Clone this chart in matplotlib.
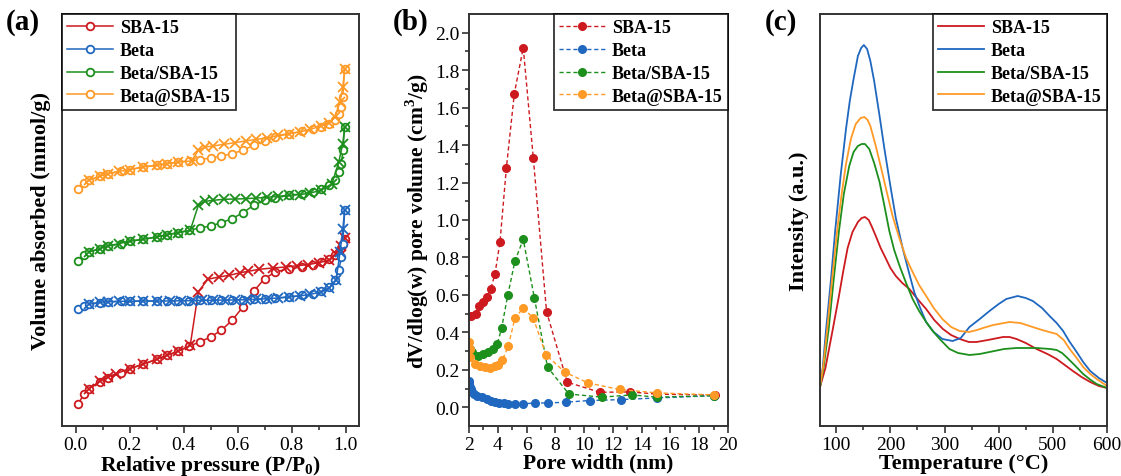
import matplotlib
matplotlib.use("Agg")
import matplotlib.pyplot as plt

plt.rcParams['font.family'] = ['Liberation Serif', 'DejaVu Serif']
plt.rcParams['mathtext.fontset'] = 'custom'
plt.rcParams['mathtext.rm'] = 'Liberation Serif'
plt.rcParams['mathtext.bf'] = 'Liberation Serif:bold'

names = ['SBA-15', 'Beta', 'Beta/SBA-15', 'Beta@SBA-15']
colors = ['#cc1a1f', '#1f67bf', '#1d8f1d', '#ff9a26']

# ---- (a) N2 isotherms (arbitrary units, offset curves) ----
p_ads = [0.01, 0.03, 0.05, 0.09, 0.12, 0.17, 0.20, 0.25, 0.30, 0.34, 0.38, 0.42, 0.46, 0.50, 0.54,
         0.58, 0.62, 0.66, 0.70, 0.74, 0.79, 0.84, 0.88, 0.91, 0.94, 0.96, 0.975, 0.985, 0.99, 0.997]
sba_ads = [2.17, 3.17, 3.73, 4.40, 4.80, 5.30, 5.73, 6.17, 6.67, 7.07, 7.47, 7.97, 8.40, 8.90, 9.57,
           10.57, 11.90, 13.47, 14.73, 15.40, 15.73, 15.90, 16.07, 16.40, 16.73, 17.07, 17.40, 17.80, 18.20, 18.73]
beta_ads = [11.67, 12.00, 12.17, 12.33, 12.40, 12.47, 12.47, 12.50, 12.50, 12.50, 12.53, 12.53, 12.57, 12.57, 12.60,
            12.60, 12.63, 12.67, 12.73, 12.80, 12.90, 13.07, 13.23, 13.50, 13.90, 14.57, 15.57, 16.90, 18.23, 21.57]
bs_ads = [16.47, 17.13, 17.40, 17.73, 18.00, 18.23, 18.47, 18.67, 18.90, 19.13, 19.33, 19.57, 19.80, 20.00, 20.33,
          20.73, 21.33, 22.07, 22.57, 22.80, 23.07, 23.23, 23.40, 23.67, 24.07, 24.57, 25.40, 26.23, 27.57, 29.90]
bat_ads = [23.73, 24.30, 24.57, 24.97, 25.23, 25.47, 25.63, 25.90, 26.07, 26.23, 26.40, 26.50, 26.63, 26.80, 27.00,
           27.23, 27.57, 28.07, 28.47, 28.90, 29.23, 29.47, 29.67, 29.90, 30.23, 30.57, 31.23, 31.90, 32.90, 35.73]

sba_p_des = [0.997, 0.985, 0.965, 0.94, 0.90, 0.86, 0.82, 0.78, 0.73, 0.68, 0.64, 0.61, 0.57, 0.53, 0.49, 0.455,
             0.425, 0.38, 0.34, 0.30, 0.25, 0.20, 0.15, 0.12, 0.09, 0.05]
sba_des = [18.80, 18.00, 17.23, 16.57, 16.33, 16.13, 16.03, 15.90, 15.80, 15.67, 15.47, 15.33, 15.07, 14.90, 14.67, 13.43,
           8.07, 7.47, 7.07, 6.67, 6.17, 5.73, 5.23, 4.90, 4.47, 3.73]
beta_p_des = [0.997, 0.99, 0.98, 0.965, 0.94, 0.91, 0.87, 0.83, 0.79, 0.75, 0.71, 0.67, 0.63, 0.59, 0.55, 0.51,
              0.47, 0.43, 0.39, 0.35, 0.30, 0.25, 0.20, 0.16, 0.12, 0.09, 0.05]
beta_des = [21.57, 19.73, 17.40, 14.57, 13.80, 13.40, 13.17, 13.00, 12.90, 12.80, 12.73, 12.67, 12.63, 12.60, 12.60, 12.57,
            12.57, 12.53, 12.53, 12.50, 12.50, 12.50, 12.47, 12.47, 12.43, 12.37, 12.17]
bs_p_des = [0.997, 0.99, 0.975, 0.95, 0.91, 0.87, 0.83, 0.79, 0.75, 0.71, 0.67, 0.63, 0.59, 0.55, 0.51, 0.48,
            0.455, 0.425, 0.38, 0.34, 0.30, 0.25, 0.20, 0.16, 0.12, 0.09, 0.05]
bs_des = [29.90, 28.23, 26.40, 24.23, 23.57, 23.30, 23.13, 23.07, 22.97, 22.87, 22.80, 22.73, 22.70, 22.67, 22.57, 22.47,
          22.07, 19.57, 19.33, 19.13, 18.90, 18.67, 18.47, 18.23, 18.00, 17.73, 17.40]
bat_p_des = [0.997, 0.99, 0.98, 0.96, 0.94, 0.91, 0.87, 0.83, 0.79, 0.75, 0.71, 0.67, 0.63, 0.59, 0.55, 0.51,
             0.48, 0.455, 0.43, 0.38, 0.34, 0.30, 0.25, 0.20, 0.16, 0.12, 0.09, 0.05]
bat_des = [35.73, 33.90, 32.40, 30.90, 30.33, 30.00, 29.67, 29.40, 29.23, 29.07, 28.80, 28.67, 28.50, 28.33, 28.17, 28.00,
           27.90, 27.57, 26.50, 26.40, 26.23, 26.07, 25.90, 25.63, 25.47, 25.23, 24.97, 24.57]

# ---- (b) pore size distribution ----
sba_w = [2.16, 2.46, 2.72, 2.95, 3.23, 3.5, 3.8, 4.15, 4.6, 5.15, 5.77, 6.47, 7.39, 8.83, 11.1, 13.2, 15.1, 19.1]
sba_v = [0.49, 0.50, 0.54, 0.56, 0.59, 0.63, 0.71, 0.88, 1.28, 1.675, 1.92, 1.33, 0.51, 0.134, 0.08, 0.082, 0.07, 0.065]
beta_w = [2.0, 2.03, 2.07, 2.12, 2.2, 2.35, 2.53, 2.88, 3.23, 3.5, 3.8, 4.1, 4.43, 4.73, 5.19, 5.77, 6.58, 7.46,
          8.71, 10.38, 12.58, 15.1, 19.0]
beta_v = [0.14, 0.13, 0.11, 0.095, 0.08, 0.07, 0.06, 0.054, 0.045, 0.036, 0.027, 0.023, 0.021, 0.018, 0.02, 0.018,
          0.023, 0.023, 0.027, 0.036, 0.041, 0.05, 0.062]
bs_w = [2.05, 2.19, 2.65, 3.0, 3.34, 3.64, 3.97, 4.27, 4.69, 5.19, 5.77, 6.54, 7.46, 8.94, 11.24, 13.3, 15.1, 19.06]
bs_v = [0.31, 0.294, 0.276, 0.285, 0.294, 0.312, 0.339, 0.424, 0.597, 0.78, 0.897, 0.585, 0.214, 0.071, 0.054,
        0.066, 0.054, 0.062]
bat_w = [2.02, 2.05, 2.1, 2.42, 2.76, 3.11, 3.46, 3.8, 4.04, 4.31, 4.73, 5.19, 5.77, 6.47, 7.35, 8.67, 10.27,
         12.46, 15.06, 19.0]
bat_v = [0.348, 0.31, 0.27, 0.232, 0.223, 0.214, 0.209, 0.219, 0.226, 0.25, 0.326, 0.476, 0.53, 0.476, 0.28, 0.187,
         0.13, 0.095, 0.077, 0.066]

# ---- (c) NH3-TPD ----
sba_t = [70, 80, 93, 105, 113, 121, 130, 140, 147, 153, 160, 166, 173, 182, 192, 200, 210, 222, 235, 250, 266,
         281, 297, 312, 328, 345, 359, 380, 408, 420, 433, 450, 470, 490, 507, 522, 537, 553, 569, 585, 600]
sba_i = [39, 58, 95, 130, 155, 178, 194, 204, 208, 209, 206, 199, 190, 178, 167, 158, 150, 143, 137, 127, 117,
         106, 97, 91, 87, 84, 84, 86, 89, 89, 87, 83, 77, 72, 67, 61, 55, 49, 44, 40, 38]
beta_t = [70, 75, 81, 90, 98, 108, 118, 125, 132, 140, 146, 151, 157, 163, 170, 180, 189, 200, 210, 223, 235, 244,
          255, 266, 280, 296, 315, 330, 346, 365, 383, 400, 414, 435, 450, 463, 480, 494, 507, 519, 530, 544, 556,
          569, 585, 600]
beta_i = [39, 58, 95, 145, 195, 250, 297, 325, 347, 370, 378, 381, 377, 365, 345, 310, 277, 240, 208, 177, 152, 134,
          118, 104, 94, 87, 85, 88, 99, 107, 115, 122, 127, 130, 128, 125, 118, 110, 103, 95, 85, 74, 64,
          55, 48, 43]
bs_t = [70, 77, 86, 95, 105, 114, 124, 132, 140, 147, 153, 161, 170, 180, 189, 198, 207, 217, 229, 241, 253, 266,
        278, 291, 309, 325, 346, 365, 383, 410, 433, 470, 495, 507, 517, 525, 540, 556, 570, 581, 600]
bs_i = [39, 60, 97, 145, 195, 232, 260, 274, 280, 282, 282, 277, 263, 244, 220, 195, 176, 160, 143, 127, 115, 104,
        95, 87, 77, 73, 71, 72, 74, 77, 78, 78, 77, 76, 73, 69, 61, 52, 46, 42, 38]
bat_t = [70, 76, 83, 92, 102, 110, 118, 127, 136, 145, 152, 158, 163, 173, 182, 192, 204, 217, 229, 241, 253, 266,
         280, 296, 312, 328, 345, 360, 371, 390, 420, 440, 457, 480, 507, 520, 531, 544, 556, 569, 581, 600]
bat_i = [39, 60, 95, 145, 197, 232, 262, 287, 302, 308, 309, 306, 300, 280, 260, 237, 210, 187, 168, 154, 141, 130,
         118, 107, 99, 95, 94, 96, 98, 101, 104, 103, 100, 96, 92, 86, 77, 68, 59, 52, 47, 40]

W, H = 1121, 477
fig = plt.figure(figsize=(W / 100, H / 100), dpi=100)


def box(l, r, t=15, b=427):
    return [l / W, 1 - b / H, (r - l) / W, (b - t) / H]


bold = dict(fontweight='bold')
lab_fs = 15.5
tick_fs = 14
leg_fs = 13


def style(ax):
    for s in ax.spines.values():
        s.set_linewidth(1.4)
        s.set_color('#333333')
    ax.tick_params(which='both', direction='out', labelsize=tick_fs, width=1.2, color='#333333', pad=2)
    ax.tick_params(which='major', length=5)
    ax.tick_params(which='minor', length=3)


def legend(ax, loc):
    leg = ax.legend(loc=loc, borderaxespad=0, fancybox=False, frameon=True, edgecolor='black',
                    prop={'family': 'Liberation Serif', 'weight': 'bold', 'size': leg_fs},
                    handlelength=2.5, labelspacing=0.32, borderpad=0.3, handletextpad=0.4, numpoints=1)
    leg.get_frame().set_linewidth(1.3)
    return leg


# (a)
ax1 = fig.add_axes(box(62, 359))
ads = [sba_ads, beta_ads, bs_ads, bat_ads]
des_p = [sba_p_des, beta_p_des, bs_p_des, bat_p_des]
des = [sba_des, beta_des, bs_des, bat_des]
for i in range(4):
    ax1.plot(p_ads, ads[i], '-o', color=colors[i], mfc='white', ms=5.5, mew=1.3, lw=1.1, label=names[i])
    ax1.plot(des_p[i], des[i], '-x', color=colors[i], ms=6.5, mew=1.3, lw=1.1)
ax1.set_xlim(-0.05, 1.05)
ax1.set_ylim(0, 41.2)
ax1.set_yticks([])
ax1.set_xticks([0.0, 0.2, 0.4, 0.6, 0.8, 1.0])
ax1.set_xticks([0.1, 0.3, 0.5, 0.7, 0.9], minor=True)
ax1.set_xlabel('Relative pressure (P/P$_\\mathbf{0}$)', fontsize=lab_fs, labelpad=0, **bold)
ax1.set_ylabel('Volume absorbed (mmol/g)', fontsize=lab_fs + 0.5, labelpad=8, **bold)
style(ax1)
legend(ax1, 'upper left')

# (b)
ax2 = fig.add_axes(box(469, 728))
ws = [sba_w, beta_w, bs_w, bat_w]
vs = [sba_v, beta_v, bs_v, bat_v]
for i in range(4):
    ax2.plot(ws[i], vs[i], '--o', color=colors[i], ms=5.5, lw=1.0, dashes=(3, 2), label=names[i])
ax2.set_xlim(2, 20)
ax2.set_ylim(-0.1, 2.1)
ax2.set_xticks(range(2, 21, 2))
ax2.set_xticks(range(3, 20, 2), minor=True)
ax2.set_yticks([0.0, 0.2, 0.4, 0.6, 0.8, 1.0, 1.2, 1.4, 1.6, 1.8, 2.0])
ax2.set_yticks([0.1, 0.3, 0.5, 0.7, 0.9, 1.1, 1.3, 1.5, 1.7, 1.9], minor=True)
ax2.set_xlabel('Pore width (nm)', fontsize=lab_fs, labelpad=0, **bold)
ax2.set_ylabel('dV/dlog(w) pore volume (cm$^\\mathbf{3}$/g)', fontsize=lab_fs, labelpad=3, **bold)
style(ax2)
legend(ax2, 'upper right')

# (c)
ax3 = fig.add_axes(box(820, 1107))
ts = [sba_t, beta_t, bs_t, bat_t]
its = [sba_i, beta_i, bs_i, bat_i]
for i in range(4):
    ax3.plot(ts[i], its[i], '-', color=colors[i], lw=1.3, label=names[i])
ax3.set_xlim(70, 600)
ax3.set_ylim(0, 412)
ax3.set_yticks([])
ax3.set_xticks([100, 200, 300, 400, 500, 600])
ax3.set_xticks([150, 250, 350, 450, 550], minor=True)
ax3.set_xlabel('Temperature (°C)', fontsize=lab_fs + 0.5, labelpad=0, **bold)
ax3.set_ylabel('Intensity (a.u.)', fontsize=lab_fs + 0.5, labelpad=8, **bold)
style(ax3)
legend(ax3, 'upper right')

for x, t in [(6, '(a)'), (393, '(b)'), (765, '(c)')]:
    fig.text(x / W, 1 - 22 / H, t, fontsize=21, va='center', ha='left', **bold)

fig.savefig('out.png', dpi=100)
